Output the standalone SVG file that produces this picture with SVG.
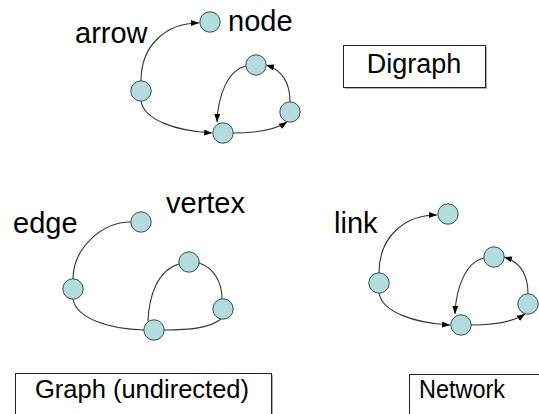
<svg xmlns="http://www.w3.org/2000/svg" width="539" height="414" viewBox="0 0 539 414">
  <style>
    .node { fill: #b3dddd; stroke: #3c4a4a; stroke-width: 1; }
    .edge { fill: none; stroke: #333; stroke-width: 1.1; }
    .arc { marker-end: url(#head); }
    .label { font-family: "Liberation Sans", Arial, sans-serif; font-size: 29px; fill: #000; }
    .title { font-family: "Liberation Sans", Arial, sans-serif; font-size: 26px; fill: #000; }
    .box { fill: #fff; stroke: #222; stroke-width: 1; }
    .shadow { fill: #b0b0b0; }
  </style>
  <defs>
    <marker id="head" markerUnits="userSpaceOnUse" markerWidth="9" markerHeight="7" refX="8" refY="3" orient="auto">
      <path d="M0,0 L8,3 L0,6 z" fill="#000"/>
    </marker>
  </defs>

  <!-- Digraph -->
  <g id="digraph">
    <g id="digraph-edges">
      <path class="edge arc" d="M141,81 C141,45 166,23 199,23"/>
      <path class="edge arc" d="M141,101 C144,120 176,131 212,133"/>
      <path class="edge arc" d="M233,133 C256,133 275,130 287,122"/>
      <path class="edge arc" d="M290,102 C290,83 282,70 266,65"/>
      <path class="edge arc" d="M246,66 C228,70 218,95 217,122"/>
    </g>
    <g id="d-top"><circle class="node" cx="210" cy="22" r="10.2"/></g>
    <g id="d-left"><circle class="node" cx="141" cy="91" r="10.2"/></g>
    <g id="d-upper"><circle class="node" cx="256" cy="65" r="10.2"/></g>
    <g id="d-right"><circle class="node" cx="290" cy="112" r="10.2"/></g>
    <g id="d-bottom"><circle class="node" cx="223" cy="133" r="10.2"/></g>
    <text class="label" x="75" y="43">arrow</text>
    <text class="label" x="228" y="31">node</text>
    <g id="digraph-title">
      <rect class="shadow" x="345" y="47" width="142" height="42"/>
      <rect class="box" x="343.5" y="45.5" width="142" height="42"/>
      <text class="title" x="414" y="73" text-anchor="middle" style="font-size:27px">Digraph</text>
    </g>
  </g>

  <!-- Graph (undirected) -->
  <g id="graph">
    <g id="graph-edges">
      <path class="edge" d="M131,222 C100,222 73,250 73,279"/>
      <path class="edge" d="M73,299 C76,318 108,329 144,330"/>
      <path class="edge" d="M164,330 C190,330 210,328 221,319"/>
      <path class="edge" d="M222,299 C222,282 214,268 199,263"/>
      <path class="edge" d="M179,264 C158,270 149,295 148,321"/>
    </g>
    <g id="g-top"><circle class="node" cx="141" cy="222" r="10.2"/></g>
    <g id="g-left"><circle class="node" cx="73" cy="289" r="10.2"/></g>
    <g id="g-upper"><circle class="node" cx="189" cy="262" r="10.2"/></g>
    <g id="g-right"><circle class="node" cx="223" cy="309" r="10.2"/></g>
    <g id="g-bottom"><circle class="node" cx="154" cy="330" r="10.2"/></g>
    <text class="label" x="13" y="233">edge</text>
    <text class="label" x="166" y="213">vertex</text>
    <g id="graph-title">
      <rect class="shadow" x="17" y="375" width="256" height="50"/>
      <rect class="box" x="15.5" y="373.5" width="256" height="50"/>
      <text class="title" x="142" y="398" text-anchor="middle" style="font-size:25.5px">Graph (undirected)</text>
    </g>
  </g>

  <!-- Network -->
  <g id="network">
    <g id="network-edges">
      <path class="edge arc" d="M379,273 C379,237 404,215 437,215"/>
      <path class="edge arc" d="M379,293 C382,312 414,323 450,325"/>
      <path class="edge arc" d="M471,325 C494,325 513,322 525,314"/>
      <path class="edge arc" d="M528,294 C528,275 520,262 504,257"/>
      <path class="edge arc" d="M484,258 C466,262 456,287 455,314"/>
    </g>
    <g id="n-top"><circle class="node" cx="448" cy="214" r="10.2"/></g>
    <g id="n-left"><circle class="node" cx="379" cy="283" r="10.2"/></g>
    <g id="n-upper"><circle class="node" cx="494" cy="257" r="10.2"/></g>
    <g id="n-right"><circle class="node" cx="528" cy="304" r="10.2"/></g>
    <g id="n-bottom"><circle class="node" cx="461" cy="325" r="10.2"/></g>
    <text class="label" x="334" y="233">link</text>
    <g id="network-title">
      <rect class="shadow" x="411" y="376" width="140" height="50"/>
      <rect class="box" x="409.5" y="374.5" width="140" height="50"/>
      <text class="title" x="419" y="398" style="font-size:25px" textLength="86" lengthAdjust="spacingAndGlyphs">Network</text>
    </g>
  </g>
</svg>
